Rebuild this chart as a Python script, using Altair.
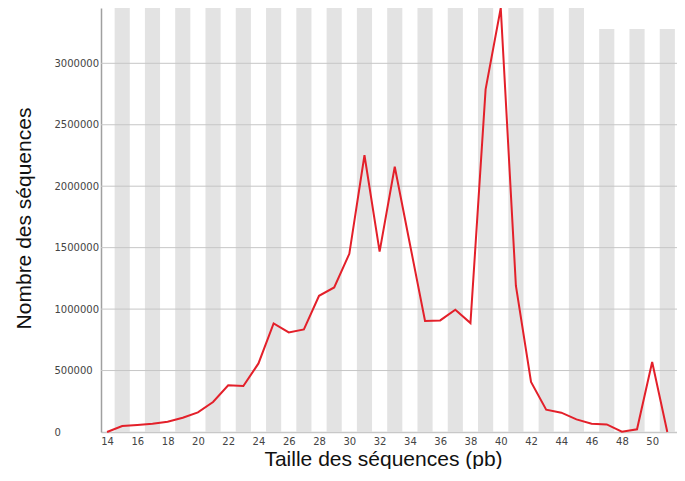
import altair as alt
import pandas as pd

# Sequence sizes (pb) and counts
sizes = [14, 15, 16, 17, 18, 19, 20, 21, 22, 23, 24, 25, 26, 27, 28, 29, 30, 31, 32,
         33, 34, 35, 36, 37, 38, 39, 40, 41, 42, 43, 44, 45, 46, 47, 48, 49, 50, 51]
counts = [0, 49000, 57000, 67000, 84000, 116000, 160000, 244000, 380000, 374000,
          558000, 884000, 810000, 835000, 1108000, 1176000, 1450000, 2252000, 1468000,
          2158000, 1530000, 904000, 908000, 995000, 886000, 2788000, 3450000, 1190000,
          407000, 182000, 157000, 103000, 68000, 62000, 3000, 22000, 569000, 0]

# Background bands (alternate sizes)
band_pos = [15, 17, 19, 21, 23, 25, 27, 29, 31, 33, 35, 37, 39, 41, 43, 45, 47, 49, 51]
band_top = [3450000, 3450000, 3450000, 3450000, 3450000, 3450000, 3450000, 3450000,
            3450000, 3450000, 3450000, 3450000, 3450000, 3450000, 3450000, 3450000,
            3280000, 3280000, 3280000]

x_ticks = [14, 16, 18, 20, 22, 24, 26, 28, 30, 32, 34, 36, 38, 40, 42, 44, 46, 48, 50]
y_ticks = [0, 500000, 1000000, 1500000, 2000000, 2500000, 3000000]
grid_vals = [500000, 1000000, 1500000, 2000000, 2500000, 3000000]

line_df = pd.DataFrame({"size": sizes, "count": counts})
band_df = pd.DataFrame({"lo": [p - 0.5 for p in band_pos],
                        "hi": [p + 0.5 for p in band_pos],
                        "top": band_top})
grid_df = pd.DataFrame({"g": grid_vals})

xs = alt.Scale(domain=[13.6, 51.64], nice=False, zero=False)
ys = alt.Scale(domain=[0, 3450000], nice=False)

x_axis = alt.Axis(values=x_ticks, grid=False, ticks=False, labelPadding=4,
                  labelFont="DejaVu Sans", labelFontSize=10, labelColor="#444444",
                  labelFlush=False, domainColor="#c8c8c8", domainWidth=1.5,
                  title="Taille des séquences (pb)", titleFont="Liberation Sans",
                  titleFontSize=21, titleFontWeight="normal", titleColor="#111111",
                  titleX=282, titleY=33, titleBaseline="alphabetic", titleAlign="center")

y_axis = alt.Axis(values=y_ticks, format="d", grid=False, ticks=False,
                  labelAlign="left", labelPadding=47, labelFont="DejaVu Sans",
                  labelFontSize=10, labelColor="#444444", domainColor="#a0a0a0",
                  domainWidth=1.5, title="Nombre des séquences",
                  titleFont="Liberation Sans", titleFontSize=21,
                  titleFontWeight="normal", titleColor="#111111",
                  titleX=-77, titleY=210, titleAngle=270, titleBaseline="middle",
                  titleAlign="center")

bands = alt.Chart(band_df).mark_bar(color="#e3e3e3").encode(
    x=alt.X("lo:Q", scale=xs, axis=x_axis),
    x2="hi:Q",
    y=alt.Y("top:Q", scale=ys, axis=y_axis),
    y2=alt.datum(0),
)

grid = alt.Chart(grid_df).mark_rule(color="#c6c6c6", strokeWidth=1).encode(
    y=alt.Y("g:Q", scale=ys, axis=y_axis),
)

line = alt.Chart(line_df).mark_line(color="#e3202a", strokeWidth=2).encode(
    x=alt.X("size:Q", scale=xs, axis=x_axis),
    y=alt.Y("count:Q", scale=ys, axis=y_axis),
)

chart = alt.layer(bands, grid, line).properties(
    width=576, height=424,
    autosize=alt.AutoSizeParams(type="none"),
    padding={"left": 93, "top": 0, "right": 0, "bottom": 37},
).configure_view(stroke=None)

chart.save("out.html", embed_options={"renderer": "svg", "actions": False})
